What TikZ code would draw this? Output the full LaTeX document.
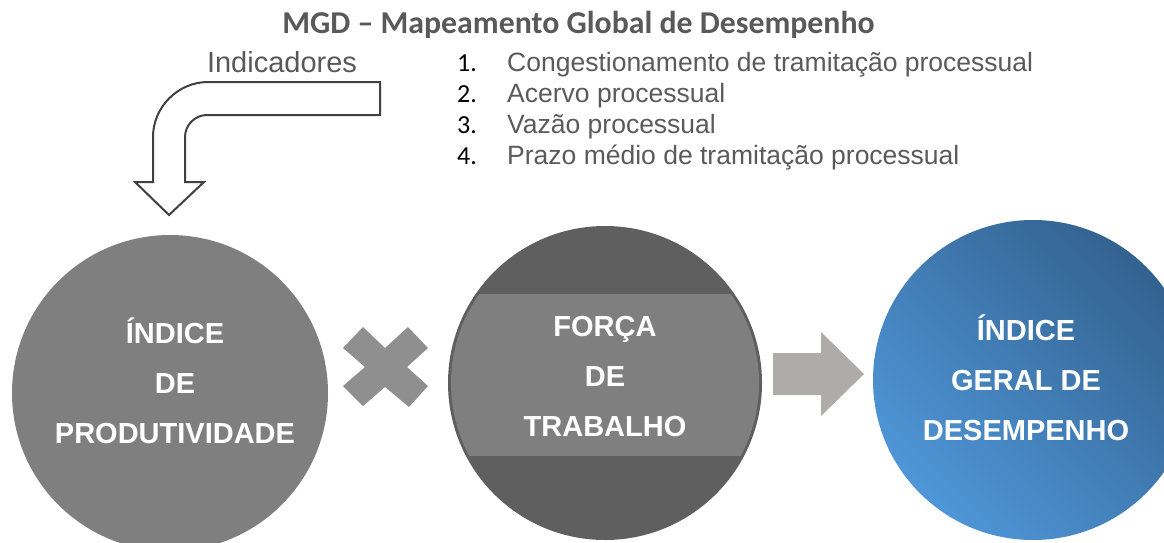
\documentclass[tikz,border=0pt]{standalone}
\usepackage{fontspec}
\setmainfont{Liberation Sans}
\newfontfamily\calibri{Carlito}
\definecolor{titlegrey}{HTML}{595959}
\definecolor{listgrey}{HTML}{5A5A5A}
\definecolor{cone}{HTML}{7F7F7F}
\definecolor{ctwodark}{HTML}{5F5F5F}
\definecolor{ctwoband}{HTML}{7F7F7F}
\definecolor{crossgrey}{HTML}{8F8F8F}
\definecolor{arrowgrey}{HTML}{AEABAB}
\definecolor{outlinegrey}{HTML}{404040}
\definecolor{blueD}{HTML}{33628F}
\definecolor{blueL}{HTML}{4F96D8}
\begin{document}
\begin{tikzpicture}[x=1pt,y=-1pt,
  circtxt/.style={text=white, font=\fontsize{29}{50}\selectfont\bfseries, align=center, inner sep=0pt},
  numtxt/.style={anchor=base west, inner sep=0pt, text=black, font=\calibri\fontsize{26}{30}\selectfont},
  itemtxt/.style={anchor=base west, inner sep=0pt, text=listgrey, font=\fontsize{26.5}{30}\selectfont},
  bigcirc/.style={circle, inner sep=0pt, draw=none}]
\useasboundingbox (0,0) rectangle (1164,542);
\clip (0,0) rectangle (1164,542);

% title
\node[anchor=base, inner sep=0pt, text=titlegrey, font=\calibri\bfseries\fontsize{31.8}{36}\selectfont] (title) at (578.5,33) {MGD – Mapeamento Global de Desempenho};

% indicators label and list
\node[anchor=base, inner sep=0pt, text=titlegrey, font=\fontsize{29}{34}\selectfont] (ind) at (282,72.5) {Indicadores};
\node[numtxt] (n1) at (457,71) {1.};
\node[itemtxt] (l1) at (507,71) {Congestionamento de tramitação processual};
\node[numtxt] (n2) at (457,102) {2.};
\node[itemtxt] (l2) at (507,102) {Acervo processual};
\node[numtxt] (n3) at (457,133) {3.};
\node[itemtxt] (l3) at (507,133) {Vazão processual};
\node[numtxt] (n4) at (457,164) {4.};
\node[itemtxt] (l4) at (507,164) {Prazo médio de tramitação processual};

% bent arrow
\draw[outlinegrey, line width=2pt, fill=white, line join=miter]
  (380,82) -- (208,82) .. controls (178,82) and (153,107) .. (153,137)
  -- (153,182) -- (135,182) -- (169,215) -- (204,182) -- (185,182)
  -- (185,137) .. controls (185,125) and (195,115) .. (207,115)
  -- (380,115) -- cycle;

% left circle
\node[bigcirc, fill=cone, minimum size=316pt] (prod) at (170,393) {};
\node[circtxt] (prodtxt) at (175,381) {ÍNDICE\\DE\\PRODUTIVIDADE};

% multiplication sign
\fill[crossgrey] (343,348) -- (363,327) -- (385,348) -- (408,327) -- (428,348)
  -- (407,367) -- (428,386) -- (409,407) -- (385,387) -- (363,406)
  -- (343,386) -- (365,367) -- cycle;

% middle circle
\node[bigcirc, fill=ctwodark, minimum size=314pt] (forca) at (605,383) {};
\begin{scope}
  \clip (440,294) rectangle (770,455);
  \fill[ctwoband] (forca.center) circle (154);
\end{scope}
\node[circtxt] (forcatxt) at (605,377) {FORÇA\\DE\\TRABALHO};

% right arrow
\fill[arrowgrey] (773,353) -- (821,353) -- (821,332) -- (864,374) -- (821,416)
  -- (821,395) -- (773,395) -- cycle;

% right circle
\node[bigcirc, minimum size=320pt, top color=blueD, bottom color=blueL, shading angle=-45] (igd) at (1033,380) {};
\node[circtxt] (igdtxt) at (1026,378) {ÍNDICE\\GERAL DE\\DESEMPENHO};
\end{tikzpicture}
\end{document}
